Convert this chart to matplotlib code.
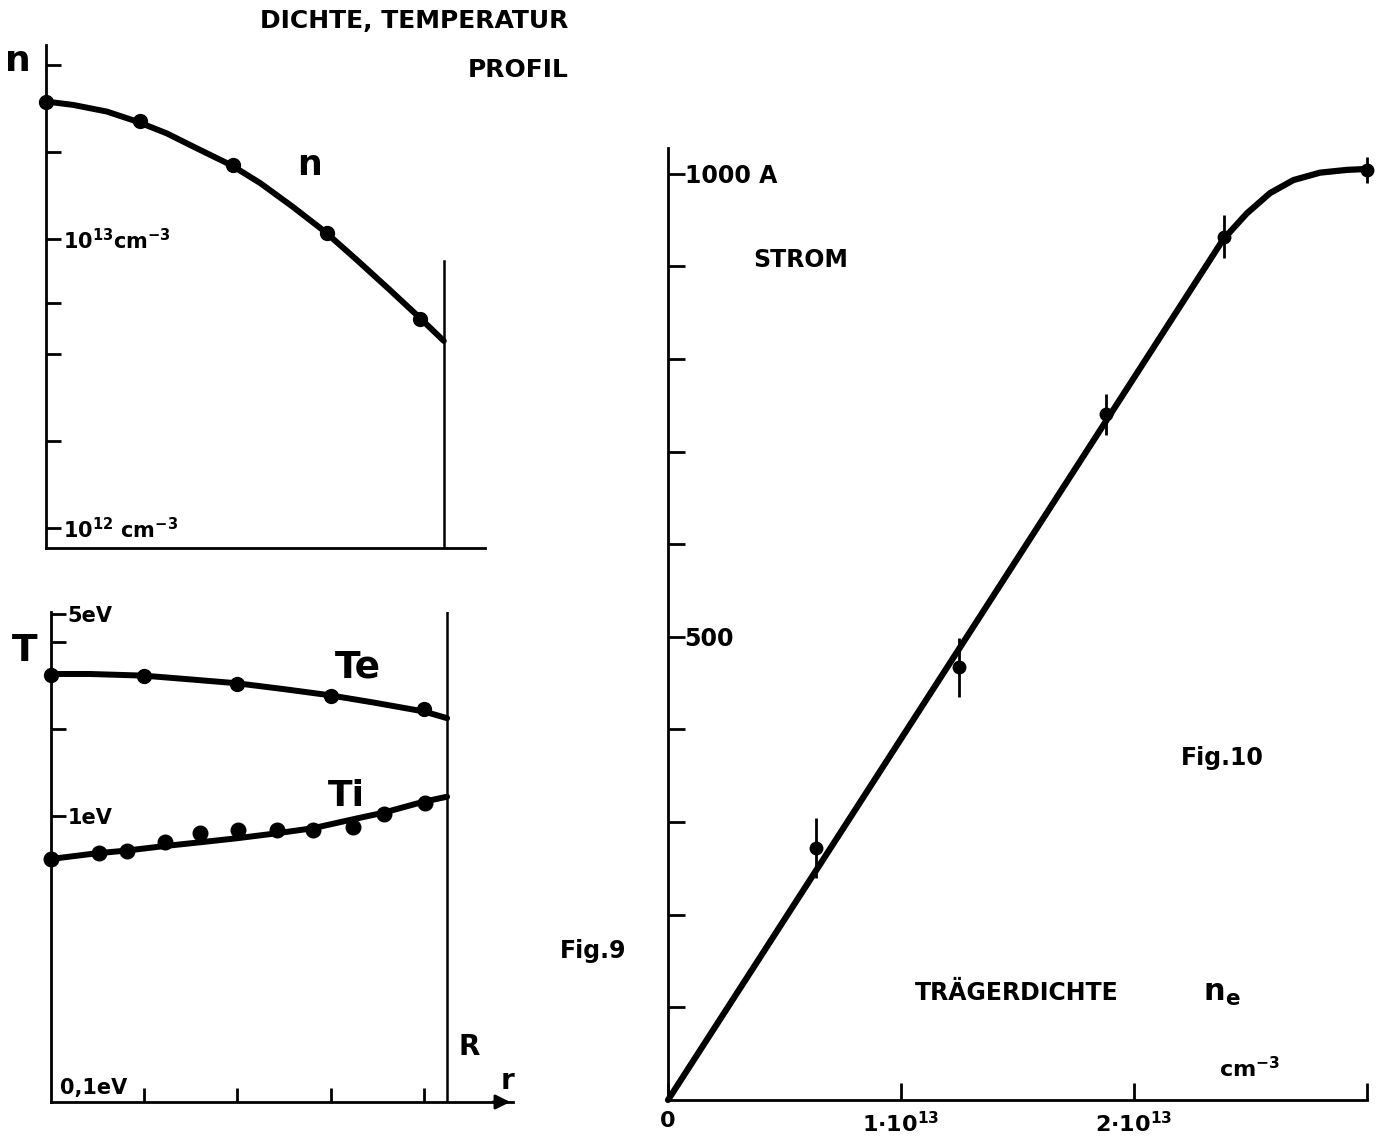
import matplotlib
matplotlib.use('Agg')
import matplotlib.pyplot as plt
from matplotlib.ticker import NullLocator

plt.rcParams['font.family'] = ['DejaVu Sans']
plt.rcParams['font.weight'] = 'bold'
plt.rcParams['mathtext.fontset'] = 'dejavusans'
plt.rcParams['mathtext.default'] = 'bf'

# ---------------- data ----------------
# Fig. 9 top: density profile n(r)
r_pts = [0, 1, 2, 3, 4]
n_pts = [2.98e13, 2.56e13, 1.80e13, 1.05e13, 5.3e12]
n_r_curve = [0, 0.29, 0.65, 0.97, 1.29, 1.61, 1.98, 2.29, 2.64, 2.98, 3.32, 3.67, 3.99, 4.25]
n_curve = [2.99e13, 2.91e13, 2.76e13, 2.55e13, 2.32e13, 2.06e13, 1.80e13, 1.56e13,
           1.29e13, 1.06e13, 8.47e12, 6.68e12, 5.35e12, 4.44e12]
R_edge = 4.25

# Fig. 9 bottom: temperatures Te, Ti (eV)
te_pts = [3.08, 3.05, 2.86, 2.60, 2.35]
te_r_curve = [0, 0.42, 0.99, 1.49, 1.99, 2.49, 2.98, 3.46, 4.0, 4.25]
te_curve = [3.10, 3.10, 3.06, 2.97, 2.88, 2.75, 2.62, 2.47, 2.30, 2.18]
ti_r = [0, 0.51, 0.82, 1.22, 1.60, 2.01, 2.42, 2.81, 3.24, 3.57, 4.01]
ti_pts = [0.710, 0.746, 0.759, 0.815, 0.871, 0.895, 0.895, 0.895, 0.918, 1.016, 1.112]
ti_r_curve = [0, 0.49, 0.81, 1.22, 1.60, 1.99, 2.42, 2.81, 3.24, 3.57, 4.0, 4.25]
ti_curve = [0.710, 0.743, 0.759, 0.787, 0.811, 0.837, 0.871, 0.907, 0.974, 1.027, 1.121, 1.166]

# Fig. 10: current vs carrier density
ne = [0.637e13, 1.249e13, 1.88e13, 2.386e13, 3.0e13]
strom = [272, 467, 740, 932, 1004]
strom_err = [32, 32, 22, 23, 14]
ne_curve = [0, 2.283e13, 2.383e13, 2.484e13, 2.584e13, 2.684e13, 2.798e13, 2.913e13, 3.0e13]
strom_curve = [0, 890, 929, 957, 979, 993, 1001, 1004, 1005]

n_ticks = [1e12, 2e12, 4e12, 6e12, 1e13, 2e13, 4e13]
n_ticklabels = ['10$^{12}$ cm$^{-3}$', '', '', '', '10$^{13}$cm$^{-3}$', '', '']
t_ticks = [1, 2, 4, 5]
t_ticklabels = ['1eV', '', '', '5eV']
r_ticks = [1, 2, 3, 4]
i_ticks = [100, 200, 300, 400, 500, 600, 700, 800, 900, 1000]
i_ticklabels = ['', '', '', '', '500', '', '', '', '', '1000 A']
x_ticks = [0, 1e13, 2e13, 3e13]
x_ticklabels = ['0', '1·10$^{13}$', '2·10$^{13}$', '']

# ---------------- layout helpers ----------------
W, H = 1381, 1146
fig = plt.figure(figsize=(W / 100, H / 100), dpi=100)


def fx(px):
    return px / W


def fy(py):
    return 1 - py / H


def rect(x0, y0, x1, y1):
    return [fx(x0), fy(y1), (x1 - x0) / W, (y1 - y0) / H]


def style(ax):
    for s in ('top', 'right'):
        ax.spines[s].set_visible(False)
    for s in ('left', 'bottom'):
        ax.spines[s].set_linewidth(2.0)
    ax.patch.set_alpha(0)


LW = 4.3

# ---------------- top-left: density ----------------
ax1 = fig.add_axes(rect(46, 45, 485, 548))
style(ax1)
ax1.set_yscale('log')
ax1.set_xlim(0, (485 - 46) / 93.6)
ax1.set_ylim(8.53e11, 4.69e13)
ax1.plot(n_r_curve, n_curve, color='k', lw=LW, solid_capstyle='round',
         solid_joinstyle='round')
ax1.plot(r_pts, n_pts, 'o', color='k', ms=10, clip_on=False)
ax1.axvline(R_edge, ymin=0, ymax=0.5706, color='k', lw=1.8)
ax1.yaxis.set_minor_locator(NullLocator())
ax1.set_yticks(n_ticks)
ax1.set_yticklabels(n_ticklabels)
ax1.set_xticks([])
ax1.tick_params(axis='y', direction='in', length=11, width=2, pad=-12, labelsize=15)
for lbl in ax1.get_yticklabels():
    lbl.set_ha('left')

# ---------------- bottom-left: temperature ----------------
ax2 = fig.add_axes(rect(51, 612, 513, 1102))
style(ax2)
ax2.set_yscale('log')
ax2.set_xlim(0, 462 / 93.2)
ax2.set_ylim(0.1024, 5.08)
ax2.plot(te_r_curve, te_curve, color='k', lw=LW, solid_capstyle='round',
         solid_joinstyle='round')
ax2.plot(r_pts, te_pts, 'o', color='k', ms=10, clip_on=False)
ax2.plot(ti_r_curve, ti_curve, color='k', lw=LW, solid_capstyle='round',
         solid_joinstyle='round')
ax2.plot(ti_r, ti_pts, 'o', color='k', ms=10.5, clip_on=False)
ax2.axvline(R_edge, color='k', lw=1.8)
ax2.yaxis.set_minor_locator(NullLocator())
ax2.set_yticks(t_ticks)
ax2.set_yticklabels(t_ticklabels)
ax2.set_xticks(r_ticks)
ax2.set_xticklabels([])
ax2.tick_params(axis='y', direction='in', length=11, width=2, pad=-12, labelsize=15)
ax2.tick_params(axis='x', direction='in', length=10, width=2)
for lbl in ax2.get_yticklabels():
    lbl.set_ha('left')
ax2.annotate('', xy=(1.0, 0), xycoords='axes fraction', xytext=(0.95, 0),
             arrowprops=dict(arrowstyle='-|>', color='k', lw=2, mutation_scale=22),
             annotation_clip=False)

# ---------------- right: current vs density ----------------
ax3 = fig.add_axes(rect(668, 148, 1367, 1100))
style(ax3)
ax3.set_xlim(0, 3.0e13)
ax3.set_ylim(0, (1100 - 148) / 0.9264)
ax3.plot(ne_curve, strom_curve, color='k', lw=4.5, solid_capstyle='round',
         solid_joinstyle='round', clip_on=False)
ax3.errorbar(ne, strom, yerr=strom_err, fmt='o', color='k', ms=9,
             elinewidth=2, capsize=0, clip_on=False)
ax3.set_yticks(i_ticks)
ax3.set_yticklabels(i_ticklabels)
ax3.set_xticks(x_ticks)
ax3.set_xticklabels(x_ticklabels)
ax3.tick_params(axis='y', direction='in', length=12, width=2, pad=-12, labelsize=17)
ax3.tick_params(axis='x', direction='in', length=12, width=2, pad=8, labelsize=16)
for lbl in ax3.get_yticklabels():
    lbl.set_ha('left')

# ---------------- texts ----------------
def ftxt(x, y, s, size, ha='left', va='baseline'):
    fig.text(fx(x), fy(y), s, size=size, ha=ha, va=va, weight='bold')


ftxt(414, 28, 'DICHTE, TEMPERATUR', 18, ha='center')
ftxt(569, 77, 'PROFIL', 18, ha='right')
ftxt(18, 71, 'n', 26, ha='center')
ftxt(310, 175, 'n', 25, ha='center')
ftxt(25, 661, 'T', 27, ha='center')
ftxt(358, 677, 'Te', 27, ha='center')
ftxt(346, 806, 'Ti', 26, ha='center')
ftxt(60, 1094, '0,1eV', 15)
ftxt(469, 1055, 'R', 20, ha='center')
ftxt(507, 1089, 'r', 20, ha='center')
ftxt(753, 267, 'STROM', 17)
ftxt(1181, 765, 'Fig.10', 17)
ftxt(560, 958, 'Fig.9', 17)
ftxt(915, 1000, 'TRÄGERDICHTE', 17)
ftxt(1203, 1001, 'n$_e$', 22)
ftxt(1219, 1077, 'cm$^{-3}$', 16)

fig.savefig('out.png', dpi=100, facecolor='white')
